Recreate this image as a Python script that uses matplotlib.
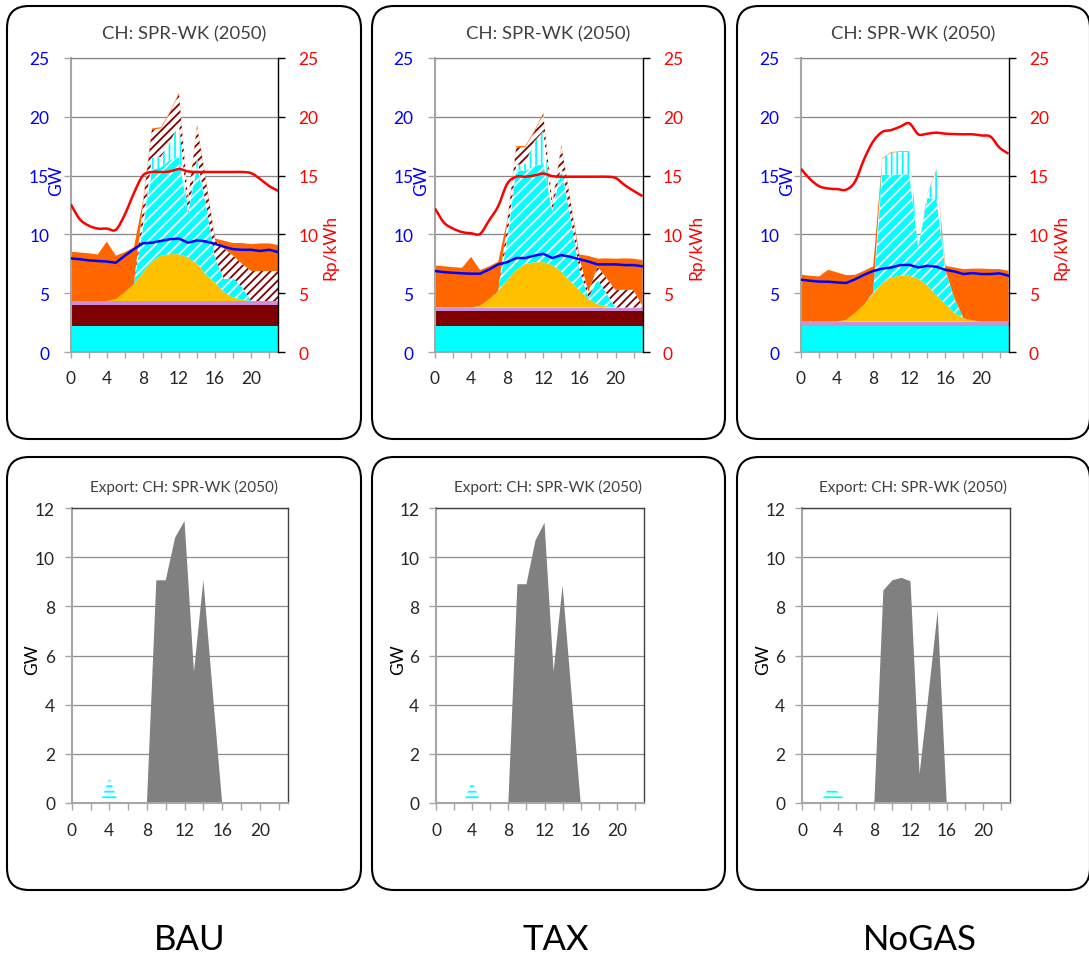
import numpy as np
import matplotlib
matplotlib.use('Agg')
import matplotlib.pyplot as plt
from matplotlib.patches import FancyBboxPatch, PathPatch
from matplotlib.path import Path

plt.rcParams['font.family'] = ['Lato', 'DejaVu Sans']
plt.rcParams['hatch.linewidth'] = 1.3

hours = list(range(24))
tick_labels = ['0', '', '4', '', '8', '', '12', '', '16', '', '20', '']
scenarios = ['BAU', 'TAX', 'NoGAS']

# --- BAU: generation stack (GW), demand (GW), price (Rp/kWh), export (GW)
bau_ror = [2.25] * 24
bau_nuc = [1.75] * 24
bau_oth = [0.35] * 24
bau_solar = [0, 0, 0, 0, 0, 0.15, 0.75, 1.45, 2.45, 3.35, 3.85, 3.98, 3.98, 3.7, 3.15, 2.25, 1.55, 0.75, 0.3, 0.1, 0, 0, 0, 0]
bau_stor = [0, 0, 0, 0, 0, 0, 0, 0, 3.7, 7.8, 7.5, 8.0, 8.2, 3.75, 8.3, 5.9, 2.1, 1.1, 1.65, 1.05, 0, 0, 0, 0]
bau_pump = [0, 0, 0, 0, 0, 0, 0, 0, 0.3, 1.0, 0.9, 1.5, 2.9, 0, 0.7, 0, 0, 0, 0, 0, 0, 0, 0, 0]
bau_imp = [0, 0, 0, 0, 0, 0, 0, 0, 1.7, 2.4, 2.4, 2.5, 2.5, 1.1, 2.7, 2.0, 1.5, 2.6, 1.9, 2.0, 2.55, 2.55, 2.55, 2.55]
bau_gas = [4.18, 4.12, 4.05, 3.95, 5.05, 3.7, 3.4, 3.1, 0.3, 0.1, 0.1, 0.1, 0.1, 0.1, 0.1, 0.1, 0.16, 0.66, 1.07, 1.77, 2.28, 2.34, 2.34, 2.2]
bau_demand = [7.97, 7.9, 7.8, 7.75, 7.7, 7.6, 8.2, 8.75, 9.25, 9.3, 9.45, 9.6, 9.65, 9.3, 9.5, 9.4, 9.2, 8.95, 8.75, 8.7, 8.7, 8.6, 8.7, 8.5]
bau_price = [12.57, 11.3, 10.75, 10.5, 10.5, 10.4, 11.7, 13.5, 15.0, 15.3, 15.3, 15.35, 15.55, 15.35, 15.3, 15.3, 15.3, 15.3, 15.3, 15.3, 15.2, 14.7, 14.1, 13.7]
bau_exp = [0, 0, 0, 0, 0, 0, 0, 0, 0, 9.06, 9.06, 10.8, 11.47, 5.33, 9.07, 4.5, 0, 0, 0, 0, 0, 0, 0, 0]
bau_exp_stor = [0, 0, 0, 0, 1.02, 0, 0, 0, 0, 0, 0, 0, 0, 0, 0, 0, 0, 0, 0, 0, 0, 0, 0, 0]

# --- TAX
tax_ror = [2.23] * 24
tax_nuc = [1.27] * 24
tax_oth = [0.3] * 24
tax_solar = [0, 0, 0, 0, 0, 0.15, 0.7, 1.4, 2.35, 3.2, 3.7, 3.85, 3.85, 3.6, 3.05, 2.2, 1.5, 0.72, 0.28, 0.1, 0, 0, 0, 0]
tax_stor = [0, 0, 0, 0, 0, 0, 0, 0, 3.35, 8.5, 7.9, 8.15, 8.35, 4.6, 8.65, 5.5, 1.7, 0.1, 2.1, 1.1, 0, 0, 0, 0]
tax_pump = [0, 0, 0, 0, 0, 0, 0, 0, 0.2, 0.4, 0.6, 2.1, 2.75, 0, 0.4, 0, 0, 0, 0, 0, 0, 0, 0, 0]
tax_imp = [0, 0, 0, 0, 0, 0, 0, 0, 1.3, 1.5, 1.4, 0.8, 1.45, 0.6, 1.6, 1.4, 1.0, 0.5, 1.1, 1.3, 1.5, 1.5, 1.5, 0.1]
tax_gas = [3.57, 3.5, 3.43, 3.37, 4.3, 3.03, 2.8, 2.48, 0.2, 0.1, 0.1, 0.1, 0.1, 0.1, 0.1, 0.1, 0.3, 3.06, 0.67, 1.67, 2.64, 2.67, 2.64, 3.92]
tax_demand = [6.9, 6.8, 6.75, 6.7, 6.67, 6.67, 7.03, 7.46, 7.65, 8.0, 8.0, 8.2, 8.36, 8.0, 8.25, 8.1, 7.9, 7.7, 7.46, 7.46, 7.46, 7.4, 7.4, 7.3]
tax_price = [12.2, 11.0, 10.5, 10.2, 10.1, 10.05, 11.2, 12.4, 14.3, 14.9, 14.9, 15.0, 15.17, 14.95, 14.9, 14.9, 14.9, 14.9, 14.9, 14.9, 14.8, 14.2, 13.7, 13.25]
tax_exp = [0, 0, 0, 0, 0, 0, 0, 0, 0, 8.9, 8.9, 10.68, 11.4, 5.35, 8.86, 4.4, 0, 0, 0, 0, 0, 0, 0, 0]
tax_exp_stor = [0, 0, 0, 0, 0.88, 0, 0, 0, 0, 0, 0, 0, 0, 0, 0, 0, 0, 0, 0, 0, 0, 0, 0, 0]

# --- NoGAS
nog_ror = [2.26] * 24
nog_nuc = [0] * 24
nog_oth = [0.34] * 24
nog_solar = [0, 0, 0, 0, 0, 0.15, 0.75, 1.45, 2.4, 3.3, 3.75, 3.9, 3.9, 3.65, 3.1, 2.25, 1.5, 0.75, 0.3, 0.1, 0, 0, 0, 0]
nog_stor = [0, 0, 0, 0, 0, 0, 0, 0, 0.1, 9.2, 8.65, 8.6, 8.6, 2.65, 7.4, 8.15, 2.9, 1.25, 0, 0, 0, 0, 0, 0]
nog_pump = [0, 0, 0, 0, 0, 0, 0, 0, 0, 1.3, 1.95, 1.9, 1.9, 0, 0.3, 2.5, 0, 0, 0, 0, 0, 0, 0, 0]
nog_imp = [0] * 24
nog_gas = [3.98, 3.9, 3.84, 4.4, 4.18, 3.8, 3.23, 2.87, 2.2, 0.05, 0.05, 0.05, 0.05, 0.05, 0.05, 0.05, 0.34, 2.6, 4.16, 4.4, 4.5, 4.46, 4.46, 4.32]
nog_demand = [6.16, 6.07, 6.0, 5.99, 5.93, 5.88, 6.2, 6.58, 6.9, 7.1, 7.2, 7.4, 7.42, 7.2, 7.34, 7.26, 7.0, 6.86, 6.64, 6.72, 6.64, 6.64, 6.7, 6.5]
nog_price = [15.57, 14.7, 14.1, 13.9, 13.85, 13.8, 14.5, 16.4, 17.9, 18.7, 18.86, 19.15, 19.43, 18.5, 18.55, 18.64, 18.55, 18.52, 18.5, 18.5, 18.4, 18.3, 17.36, 16.85]
nog_exp = [0, 0, 0, 0, 0, 0, 0, 0, 0, 8.65, 9.06, 9.16, 9.02, 1.18, 4.44, 7.8, 0, 0, 0, 0, 0, 0, 0, 0]
nog_exp_stor = [0, 0, 0, 0.65, 0.45, 0, 0, 0, 0, 0, 0, 0, 0, 0, 0, 0, 0, 0, 0, 0, 0, 0, 0, 0]

W, H = 1089, 962
fig = plt.figure(figsize=(W / 100, H / 100), dpi=100)


def rect(left, top, right, bottom):
    # pixel box -> figure fraction
    return [left / W, 1 - bottom / H, (right - left) / W, (bottom - top) / H]


bg = fig.add_axes([0, 0, 1, 1])
bg.set_xlim(0, W)
bg.set_ylim(H, 0)
bg.axis('off')

# rounded frames around each chart
for x0, x1 in [(7, 361), (372, 725), (737, 1090)]:
    for y0, y1 in [(7, 440), (458, 891)]:
        bg.add_patch(FancyBboxPatch((x0, y0), x1 - x0, y1 - y0,
                                    boxstyle='round,pad=0,rounding_size=22',
                                    fill=False, ec='black', lw=1.5))


def smooth_path(x, y):
    # Excel-like smoothed line through the points (bezier segments)
    p = np.column_stack([x, y]).astype(float)
    n = len(p)
    verts = [p[0]]
    for i in range(n - 1):
        p0 = p[max(i - 1, 0)]
        p3 = p[min(i + 2, n - 1)]
        verts.append(p[i] + (p[i + 1] - p0) / 6)
        verts.append(p[i + 1] - (p3 - p[i]) / 6)
        verts.append(p[i + 1])
    codes = [Path.MOVETO] + [Path.CURVE4] * (3 * (n - 1))
    return Path(verts, codes)


def top_panel(left, right, ror, nuc, oth, solar, stor, pump, imp, gas, demand, price):
    ax = fig.add_axes(rect(left, 58.7, right, 353.3))
    layers = [
        (ror, dict(facecolor='#00FFFF')),
        (nuc, dict(facecolor='#7F0000')),
        (oth, dict(facecolor='#CC8FD8')),
        (solar, dict(facecolor='#FFC000')),
        (stor, dict(facecolor='#00FFFF', edgecolor='white', hatch='///')),
        (pump, dict(facecolor='white', edgecolor='#00FFFF', hatch='|||')),
        (imp, dict(facecolor='white', edgecolor='#7F0000', hatch='////')),
        (gas, dict(facecolor='#FF6600')),
    ]
    lower = np.zeros(len(hours))
    for vals, style in layers:
        upper = lower + np.array(vals)
        ax.fill_between(hours, lower, upper, linewidth=0, **style)
        lower = upper
    ax.plot(hours, demand, color='#0000FF', lw=1.8, zorder=5)

    ax.set_xlim(0, 23)
    ax.set_ylim(0, 25)
    ax.set_yticks(range(0, 26, 5))
    ax.set_xticks(range(0, 23, 2))
    ax.set_xticklabels(tick_labels)
    ax.set_axisbelow(True)
    ax.grid(axis='y', color='#868686', lw=0.9)
    ax.tick_params(axis='y', direction='out', length=5, width=1, color='#A6A6A6',
                   labelcolor='#0000FF', labelsize=12.5, pad=10.5)
    ax.tick_params(axis='x', direction='out', length=4.5, width=1, color='#A6A6A6',
                   labelcolor='#262626', labelsize=12.5, pad=8)
    for s in ['left', 'bottom']:
        ax.spines[s].set_color('#A6A6A6')
        ax.spines[s].set_linewidth(1.5)
    ax.spines['top'].set_color('#868686')
    ax.spines['top'].set_linewidth(0.9)
    ax.spines['right'].set_visible(False)

    ax2 = ax.twinx()
    ax2.set_ylim(0, 25)
    ax2.set_yticks(range(0, 26, 5))
    ax2.add_patch(PathPatch(smooth_path(hours, price), fill=False,
                            edgecolor='#FF0000', lw=1.8, zorder=6))
    ax2.tick_params(axis='y', direction='out', length=5, width=1, color='black',
                    labelcolor='#FF0000', labelsize=12.5, pad=9.5)
    for s in ['left', 'top', 'bottom']:
        ax2.spines[s].set_visible(False)
    ax2.spines['right'].set_color('black')
    ax2.spines['right'].set_linewidth(1.0)
    return ax


def bottom_panel(left, right, exp, exp_stor):
    ax = fig.add_axes(rect(left, 509, right, 804))
    ax.fill_between(hours, 0, exp_stor, facecolor='white', edgecolor='#00FFFF',
                    hatch='---', linewidth=0)
    ax.fill_between(hours, exp_stor, np.add(exp_stor, exp), facecolor='#808080',
                    linewidth=0)
    ax.set_xlim(0, 23)
    ax.set_ylim(0, 12)
    ax.set_yticks(range(0, 13, 2))
    ax.set_xticks(range(0, 23, 2))
    ax.set_xticklabels(tick_labels)
    ax.set_axisbelow(True)
    ax.grid(axis='y', color='#8C8C8C', lw=0.9)
    ax.tick_params(axis='both', direction='out', length=5, width=1, color='#A6A6A6',
                   labelcolor='#262626', labelsize=12.5)
    ax.tick_params(axis='y', pad=7)
    ax.tick_params(axis='x', pad=9)
    for s in ['left', 'bottom']:
        ax.spines[s].set_color('#A6A6A6')
        ax.spines[s].set_linewidth(1.5)
    for s in ['top', 'right']:
        ax.spines[s].set_color('#404040')
        ax.spines[s].set_linewidth(1.0)
    return ax


top_data = [
    (bau_ror, bau_nuc, bau_oth, bau_solar, bau_stor, bau_pump, bau_imp, bau_gas, bau_demand, bau_price),
    (tax_ror, tax_nuc, tax_oth, tax_solar, tax_stor, tax_pump, tax_imp, tax_gas, tax_demand, tax_price),
    (nog_ror, nog_nuc, nog_oth, nog_solar, nog_stor, nog_pump, nog_imp, nog_gas, nog_demand, nog_price),
]
bottom_data = [(bau_exp, bau_exp_stor), (tax_exp, tax_exp_stor), (nog_exp, nog_exp_stor)]

top_x = [(70.7, 278.3), (435.0, 642.6), (801.0, 1008.6)]
bot_x = [(71.7, 288.0), (436.0, 644.0), (802.0, 1010.0)]
centers = [184, 548.5, 913]
dxs = [0, 365.5, 731]
name_x = [190, 556, 920]

for i in range(3):
    top_panel(top_x[i][0], top_x[i][1], *top_data[i])
    bottom_panel(bot_x[i][0], bot_x[i][1], *bottom_data[i])
    bg.text(centers[i], 34, 'CH: SPR-WK (2050)', ha='center', va='center',
            fontsize=13.3, color='#404040')
    bg.text(centers[i], 487, 'Export: CH: SPR-WK (2050)', ha='center', va='center',
            fontsize=11, color='#404040')
    bg.text(56 + dxs[i], 181, 'GW', ha='center', va='center', rotation=90,
            fontsize=12.5, color='#0000FF')
    bg.text(330.5 + dxs[i], 247, 'Rp/kWh', ha='center', va='center', rotation=90,
            fontsize=12.5, color='#FF0000')
    bg.text(32.5 + dxs[i], 660, 'GW', ha='center', va='center', rotation=90,
            fontsize=12.5, color='black')
    bg.text(name_x[i], 940, scenarios[i], ha='center', va='center',
            fontsize=25, color='black')

fig.savefig('out.png', dpi=100)
plt.close(fig)
